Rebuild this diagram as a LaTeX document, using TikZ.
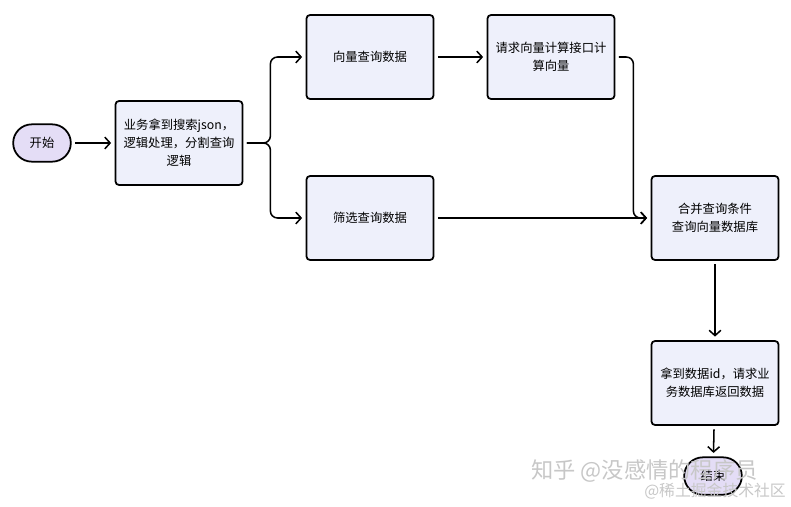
\documentclass[tikz,border=0pt]{standalone}
\usepackage{fontspec}
\setmainfont{Noto Sans CJK SC}
\usetikzlibrary{arrows.meta,shapes.misc}
\definecolor{boxfill}{HTML}{EEF0FB}
\definecolor{termfill}{HTML}{E4DDF6}

\begin{document}
\begin{tikzpicture}[x=0.03cm, y=-0.03cm,
    box/.style={draw, line width=1.5pt, rounded corners=3pt, fill=boxfill,
        minimum width=3.81cm, minimum height=2.52cm, inner sep=1pt,
        align=center, font=\fontsize{10.5}{15.5}\selectfont},
    term/.style={draw, rounded rectangle, line width=1.5pt, fill=termfill,
        minimum width=1.8cm, minimum height=1.12cm, inner sep=1pt,
        font=\fontsize{10.5}{13}\selectfont},
    link/.style={line width=1.3pt, rounded corners=6pt,
        -{Straight Barb[length=4.5pt, width=10pt, line width=1.3pt]},
        shorten <=3pt, shorten >=3pt},
    watermark/.style={text=black!22, inner sep=0pt}]
    \useasboundingbox (0,0) rectangle (791,506);

    \node[term] (start) at (42,143) {开始};
    \node[box] (split) at (179,143) {业务拿到搜索json，\\逻辑处理，分割查询\\逻辑};
    \node[box] (vecquery) at (370,57) {向量查询数据};
    \node[box] (filter) at (370,218) {筛选查询数据};
    \node[box] (embed) at (551,57) {请求向量计算接口计\\算向量};
    \node[box] (merge) at (715,218) {合并查询条件\\查询向量数据库};
    \node[box] (fetch) at (715,383) {拿到数据id，请求业\\务数据库返回数据};
    \node[term] (stop) at (713,476) {结束};

    \draw[link] (start) -- (split);
    \draw[link] (split.east) -- ++(27,0) |- (vecquery);
    \draw[link] (split.east) -- ++(27,0) |- (filter);
    \draw[link] (vecquery) -- (embed);
    \draw[link] (embed.east) -- ++(18,0) |- (merge);
    \draw[link] (filter) -- (merge);
    \draw[link] (merge) -- (fetch);
    \draw[link] (fetch) -- (stop);

    \node[watermark, font=\fontsize{19}{19}\selectfont, anchor=west] (zhihu) at (531,471) {知乎 @没感情的程序员};
    \node[watermark, font=\fontsize{13.5}{14}\selectfont, anchor=east] (juejin) at (786,491) {@稀土掘金技术社区};
\end{tikzpicture}
\end{document}
